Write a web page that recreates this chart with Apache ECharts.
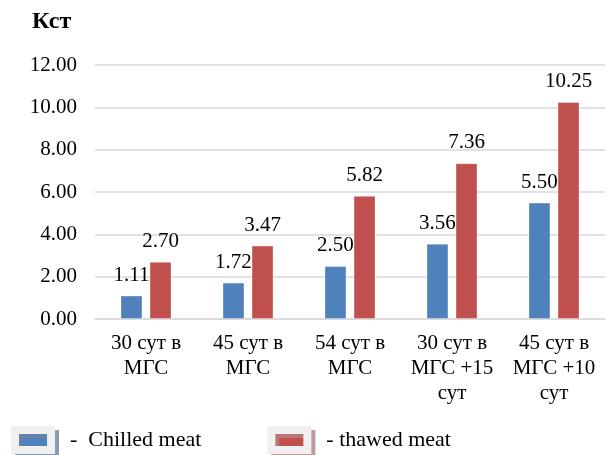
<!DOCTYPE html>
<html>
<head>
<meta charset="utf-8">
<script src="https://cdn.jsdelivr.net/npm/echarts@6/dist/echarts.min.js"></script>
<style>
  html, body { margin: 0; padding: 0; background: #fff; }
  #chart { width: 613px; height: 455px; }
</style>
</head>
<body>
<div id="chart"></div>
<script>
// categories and values
var categories = ['30 сут в\nМГС', '45 сут в\nМГС', '54 сут в\nМГС', '30 сут в\nМГС +15\nсут', '45 сут в\nМГС +10\nсут']
var chilled = [1.11, 1.72, 2.50, 3.56, 5.50]
var thawed = [2.70, 3.47, 5.82, 7.36, 10.25]
var yTicks = { min: 0, max: 12, interval: 2 }

var font = '"Liberation Serif", "Times New Roman", serif'

var myChart = echarts.init(document.getElementById('chart'))

function barLabel () {
  return {
    show: true,
    position: 'top',
    distance: 10,
    color: '#000',
    fontFamily: font,
    fontSize: 21,
    formatter: function (p) { return p.value.toFixed(2) }
  }
}

function legendIcon (shadow) {
  return {
    borderColor: '#f0f0f0',
    borderWidth: 8,
    shadowColor: shadow,
    shadowOffsetX: 4,
    shadowOffsetY: 4,
    shadowBlur: 0
  }
}

var option = {
  animation: false,
  title: {
    text: 'Кст',
    left: 27,
    top: 5,
    textStyle: { fontFamily: font, fontSize: 24, fontWeight: 'bold', color: '#000' }
  },
  grid: {
    left: 95,
    right: 8,
    top: 65,
    bottom: 136
  },
  legend: {
    left: 6,
    top: 421,
    itemWidth: 36,
    itemHeight: 20,
    itemGap: 66,
    icon: 'rect',
    data: [
      { name: 'Chilled meat', itemStyle: legendIcon('rgba(110,130,160,0.8)') },
      { name: 'thawed meat', itemStyle: legendIcon('rgba(180,130,130,0.8)') }
    ],
    formatter: function (name) {
      return name === 'Chilled meat' ? '-  Chilled meat' : '- thawed meat'
    },
    textStyle: { fontFamily: font, fontSize: 22, color: '#000', padding: [0, 0, 0, 14] }
  },
  xAxis: {
    type: 'category',
    data: categories,
    axisTick: { show: false },
    axisLine: { lineStyle: { color: '#d9d9d9', width: 1.5 } },
    axisLabel: {
      color: '#000',
      fontFamily: font,
      fontSize: 21,
      lineHeight: 25,
      margin: 12,
      interval: 0
    }
  },
  yAxis: {
    type: 'value',
    min: yTicks.min,
    max: yTicks.max,
    interval: yTicks.interval,
    axisLine: { show: false },
    axisTick: { show: false },
    splitLine: { lineStyle: { color: '#d9d9d9', width: 1.5 } },
    axisLabel: {
      color: '#000',
      fontFamily: font,
      fontSize: 21,
      margin: 18,
      formatter: function (v) { return v.toFixed(2) }
    }
  },
  series: [
    {
      name: 'Chilled meat',
      type: 'bar',
      data: chilled,
      barWidth: 22,
      barGap: '32%',
      itemStyle: { color: '#4F81BD', borderColor: 'rgba(255,255,255,0.35)', borderWidth: 1 },
      label: barLabel()
    },
    {
      name: 'thawed meat',
      type: 'bar',
      data: thawed,
      barWidth: 22,
      itemStyle: { color: '#C0504D', borderColor: 'rgba(255,255,255,0.35)', borderWidth: 1 },
      label: barLabel()
    }
  ]
}

myChart.setOption(option)
</script>
</body>
</html>
